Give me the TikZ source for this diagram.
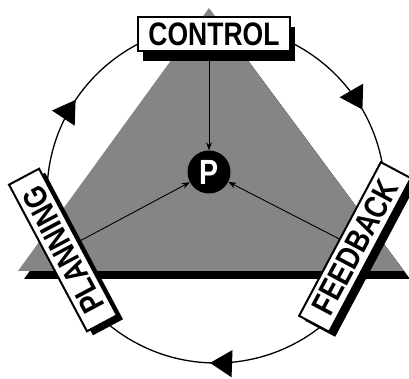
\documentclass[tikz,border=0pt]{standalone}
\usepackage{fontspec}
\setmainfont{Liberation Sans}
\usepackage{graphicx}
\usetikzlibrary{arrows.meta,decorations.markings,calc}
\newcommand\tallt[1]{\scalebox{1.02}[1.25]{#1}}
\begin{document}
\begin{tikzpicture}[x=1pt,y=1pt,
  lbl/.style={draw=black, line width=2pt, fill=white, font=\fontsize{26}{26}\bfseries\selectfont, inner sep=0pt, minimum height=34pt},
  shd/.style={fill=black, inner sep=0pt, minimum height=34pt},
  ring/.style={line width=1.3pt},
  feed/.style={line width=0.9pt, -{Stealth[length=8pt,width=6pt]}},
  bigtip/.style={decoration={markings,
    mark=at position 0.1667 with {\arrow{Triangle[length=22pt,width=27pt]}},
    mark=at position 0.5056 with {\arrow{Triangle[length=22pt,width=27pt]}},
    mark=at position 0.844 with {\arrow{Triangle[length=22pt,width=27pt]}}}, postaction=decorate}
]
\useasboundingbox (0,0) rectangle (409,379);
\begin{scope}
\clip (0,0) rectangle (409,379);
% ring
\coordinate (ringtop) at (216,354);
\draw[ring, bigtip] (ringtop) arc[start angle=90, end angle=-270, radius=169];
% triangle with shadow
\fill[black] (24,100) -- (215,363) -- (410,100) -- cycle;
\fill[black!48] (18,108) -- (209,371) -- (404,108) -- cycle;
% centre
\node[circle, fill=black, minimum size=43pt, inner sep=0pt, text=white,
      font=\fontsize{28}{28}\bfseries\selectfont] (P) at (209,207) {\tallt{P}};
% anchors of the labels
\coordinate (ctrlc) at (214,345);
\coordinate (ctrlfoot) at (209,340);
\coordinate (planc) at (63,129);
\coordinate (feedc) at (355,132);
% connectors
\draw[feed] (ctrlfoot) -- (P);
\draw[feed] (planc) -- (P);
\draw[feed] (feedc) -- (P);
% label shadows
\node[shd, minimum width=152pt] (ctrlsh) at ($(ctrlc)+(5,-10)$) {};
\node[shd, rotate=118, minimum width=166pt] (plansh) at ($(planc)+(6,-4)$) {};
\node[shd, rotate=62, minimum width=174pt] (feedsh) at ($(feedc)+(6,-5)$) {};
% labels
\node[lbl, minimum width=152pt] (ctrl) at (ctrlc) {\tallt{CONTROL}};
\node[lbl, rotate=118, minimum width=166pt] (plan) at (planc) {\tallt{PLANNING}};
\node[lbl, rotate=62, minimum width=174pt] (feed) at (feedc) {\tallt{FEEDBACK}};
\end{scope}
\end{tikzpicture}
\end{document}
